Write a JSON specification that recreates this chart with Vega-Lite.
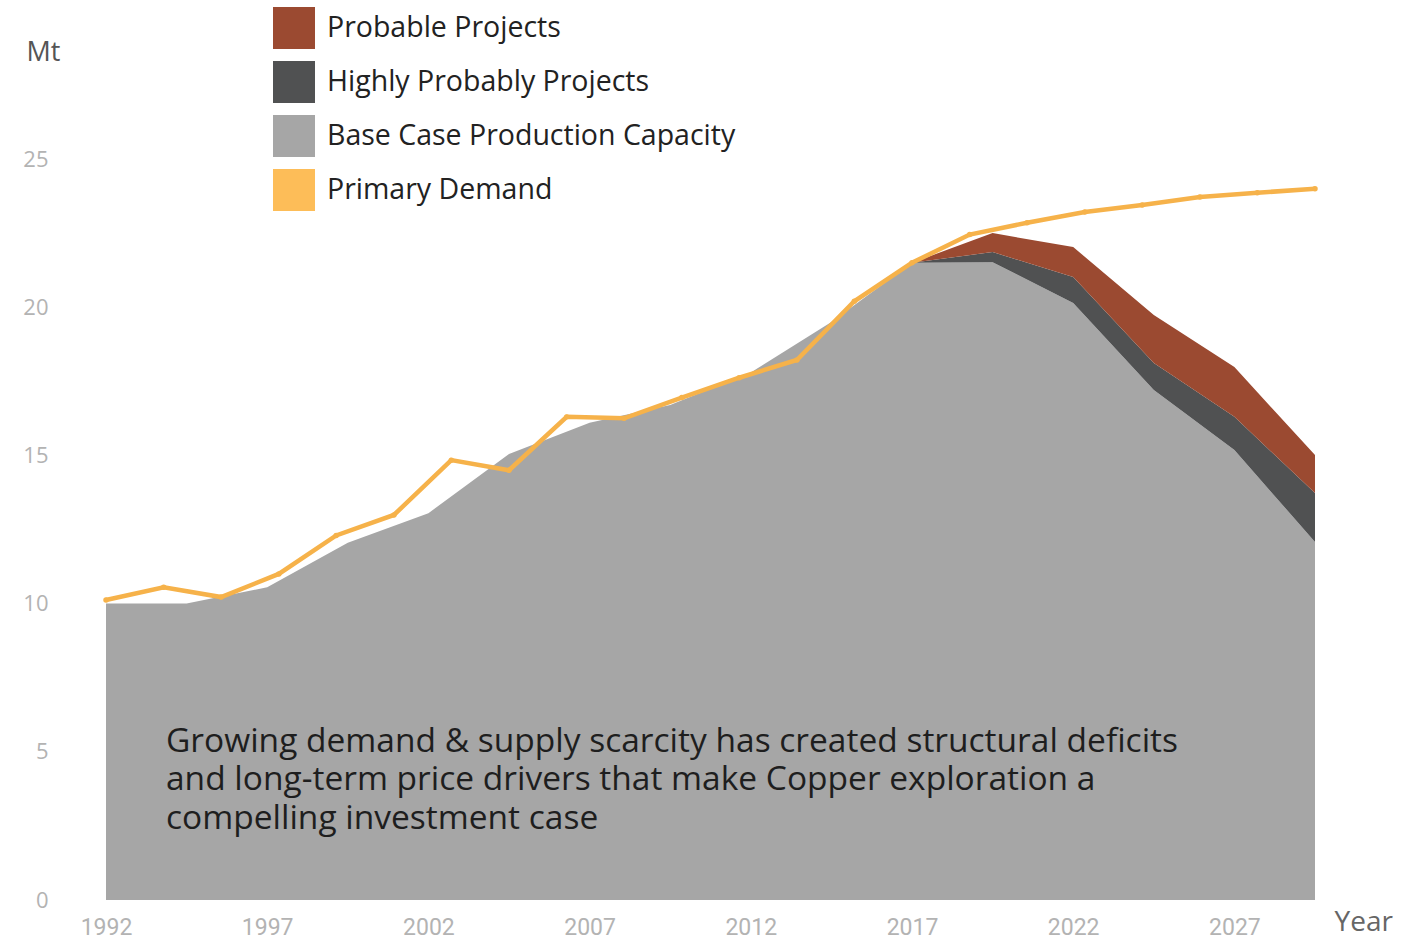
{
  "$schema": "https://vega.github.io/schema/vega-lite/v6.json",
  "width": 1209,
  "height": 741,
  "autosize": {"type": "none"},
  "padding": {"left": 106, "top": 159, "right": 91, "bottom": 40},
  "background": "white",
  "config": {
    "view": {"stroke": null},
    "font": "Open Sans",
    "axis": {"grid": false, "domain": false, "ticks": false}
  },
  "datasets": {
    "supply": [
      {"year": 1992, "series": "Base Case Production Capacity", "value": 10.0},
      {"year": 1994.5, "series": "Base Case Production Capacity", "value": 10.0},
      {"year": 1997, "series": "Base Case Production Capacity", "value": 10.55},
      {"year": 1999.5, "series": "Base Case Production Capacity", "value": 12.05},
      {"year": 2002, "series": "Base Case Production Capacity", "value": 13.05},
      {"year": 2004.5, "series": "Base Case Production Capacity", "value": 15.05},
      {"year": 2007, "series": "Base Case Production Capacity", "value": 16.1},
      {"year": 2009.5, "series": "Base Case Production Capacity", "value": 16.7},
      {"year": 2012, "series": "Base Case Production Capacity", "value": 17.8},
      {"year": 2014.5, "series": "Base Case Production Capacity", "value": 19.5},
      {"year": 2017, "series": "Base Case Production Capacity", "value": 21.5},
      {"year": 2019.5, "series": "Base Case Production Capacity", "value": 21.52},
      {"year": 2022, "series": "Base Case Production Capacity", "value": 20.14},
      {"year": 2024.5, "series": "Base Case Production Capacity", "value": 17.21},
      {"year": 2027, "series": "Base Case Production Capacity", "value": 15.18},
      {"year": 2029.5, "series": "Base Case Production Capacity", "value": 12.08},
      {"year": 2017, "series": "Highly Probably Projects", "value": 0},
      {"year": 2019.5, "series": "Highly Probably Projects", "value": 0.34},
      {"year": 2022, "series": "Highly Probably Projects", "value": 0.88},
      {"year": 2024.5, "series": "Highly Probably Projects", "value": 0.91},
      {"year": 2027, "series": "Highly Probably Projects", "value": 1.12},
      {"year": 2029.5, "series": "Highly Probably Projects", "value": 1.65},
      {"year": 2017, "series": "Probable Projects", "value": 0},
      {"year": 2019.5, "series": "Probable Projects", "value": 0.64},
      {"year": 2022, "series": "Probable Projects", "value": 1.01},
      {"year": 2024.5, "series": "Probable Projects", "value": 1.62},
      {"year": 2027, "series": "Probable Projects", "value": 1.68},
      {"year": 2029.5, "series": "Probable Projects", "value": 1.28}
    ],
    "demand": [
      {"year": 1992.0, "value": 10.12},
      {"year": 1993.79, "value": 10.55},
      {"year": 1995.57, "value": 10.22},
      {"year": 1997.36, "value": 11.0},
      {"year": 1999.14, "value": 12.3},
      {"year": 2000.93, "value": 12.99},
      {"year": 2002.71, "value": 14.84},
      {"year": 2004.5, "value": 14.5},
      {"year": 2006.29, "value": 16.3},
      {"year": 2008.07, "value": 16.25},
      {"year": 2009.86, "value": 16.95},
      {"year": 2011.64, "value": 17.62},
      {"year": 2013.43, "value": 18.22},
      {"year": 2015.21, "value": 20.2},
      {"year": 2017.0, "value": 21.5},
      {"year": 2018.79, "value": 22.45},
      {"year": 2020.57, "value": 22.85},
      {"year": 2022.36, "value": 23.21},
      {"year": 2024.14, "value": 23.45},
      {"year": 2025.93, "value": 23.72},
      {"year": 2027.71, "value": 23.86},
      {"year": 2029.5, "value": 24.0}
    ]
  },
  "layer": [
    {
      "data": {"name": "supply"},
      "mark": {"type": "area", "interpolate": "linear", "opacity": 1},
      "encoding": {
        "x": {
          "field": "year", "type": "quantitative",
          "scale": {"domain": [1992, 2029.5], "nice": false, "zero": false},
          "axis": {
            "values": [1992, 1997, 2002, 2007, 2012, 2017, 2022, 2027],
            "format": "d",
            "labelFont": "Roboto",
            "labelFontSize": 23,
            "labelColor": "#b3b3b3",
            "labelPadding": 16,
            "labelFlush": false,
            "title": "Year",
            "titleFont": "Open Sans",
            "titleFontSize": 28,
            "titleFontWeight": "normal",
            "titleColor": "#666666",
            "titleAnchor": "start",
            "titleAlign": "left",
            "titleBaseline": "middle",
            "titleX": 1228,
            "titleY": 22
          }
        },
        "y": {
          "field": "value", "type": "quantitative", "stack": "zero",
          "scale": {"domain": [0, 25], "nice": false},
          "axis": {
            "values": [0, 5, 10, 15, 20, 25],
            "labelFont": "Open Sans",
            "labelFontSize": 22,
            "labelColor": "#b3b3b3",
            "labelPadding": 58,
            "title": "Mt",
            "titleAngle": 0,
            "titleFont": "Open Sans",
            "titleFontSize": 27,
            "titleFontWeight": "normal",
            "titleColor": "#555555",
            "titleAlign": "left",
            "titleBaseline": "middle",
            "titleX": -80,
            "titleY": -107
          }
        },
        "color": {
          "field": "series", "type": "nominal",
          "scale": {
            "domain": ["Probable Projects", "Highly Probably Projects", "Base Case Production Capacity", "Primary Demand"],
            "range": ["#9B4A31", "#505152", "#A6A6A6", "#FDBD58"]
          },
          "legend": {
            "orient": "none",
            "legendX": 167,
            "legendY": -152,
            "title": null,
            "symbolType": "square",
            "symbolSize": 1764,
            "symbolStrokeWidth": 0,
            "symbolOpacity": 1,
            "labelFont": "Open Sans",
            "labelFontSize": 28.5,
            "labelColor": "#222222",
            "labelOffset": 12,
            "labelLimit": 0,
            "rowPadding": 12,
            "padding": 0
          }
        },
        "order": {"field": "series", "sort": "ascending"}
      }
    },
    {
      "data": {"name": "demand"},
      "mark": {
        "type": "line", "color": "#F6B24A", "strokeWidth": 4.5,
        "point": {"filled": true, "size": 30, "color": "#F6B24A"}
      },
      "encoding": {
        "x": {"field": "year", "type": "quantitative"},
        "y": {"field": "value", "type": "quantitative"}
      }
    },
    {
      "data": {"values": [{}]},
      "mark": {
        "type": "text",
        "text": "Growing demand & supply scarcity has created structural deficits\nand long-term price drivers that make Copper exploration a\ncompelling investment case",
        "lineBreak": "\n",
        "align": "left",
        "baseline": "alphabetic",
        "font": "Open Sans",
        "fontSize": 33.5,
        "lineHeight": 38.5,
        "color": "#1e1e1e"
      },
      "encoding": {
        "x": {"datum": 1993.86, "type": "quantitative"},
        "y": {"datum": 5.0, "type": "quantitative"}
      }
    }
  ]
}
